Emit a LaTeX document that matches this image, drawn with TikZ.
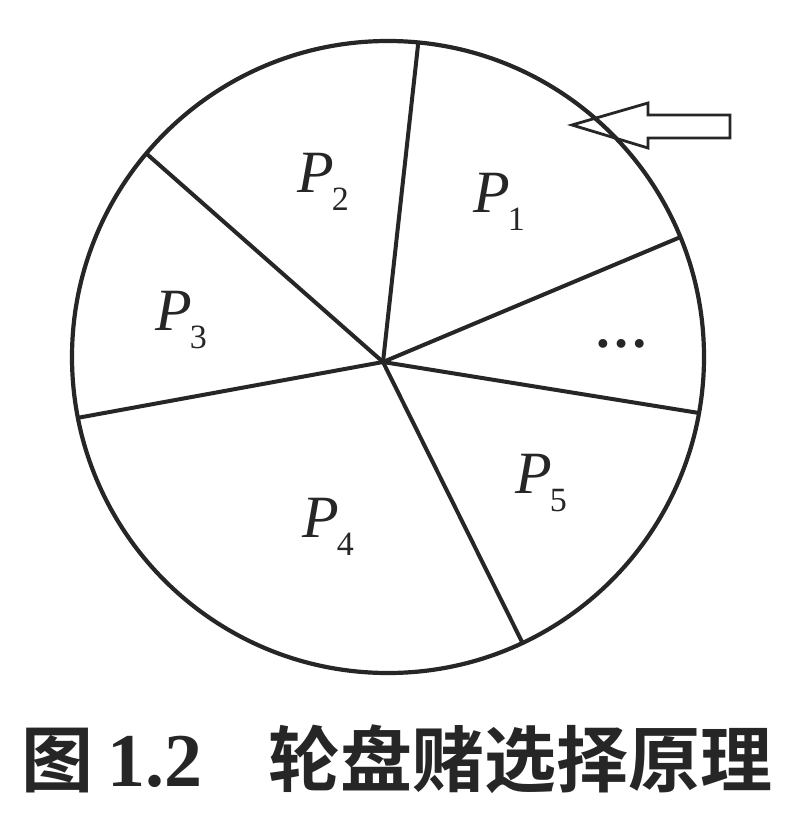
\documentclass[tikz,border=0pt]{standalone}
\usepackage{fontspec}
\setmainfont{Liberation Serif}
\newfontfamily\cjk{Noto Sans CJK SC}[BoldFont={Noto Sans CJK SC Bold}]
\newcommand\plab[1]{\textit{P}\kern-2pt\raisebox{-18pt}{\fontsize{34}{34}\selectfont #1}}
\begin{document}
\begin{tikzpicture}[x=1pt,y=-1pt,
  wheel/.style={draw=black!85,line width=4.2pt},
  spoke/.style={draw=black!85,line width=4pt},
  pointer/.style={draw=black!85,line width=2.8pt,line join=miter},
  plabel/.style={inner sep=0pt,anchor=base west,font=\fontsize{60}{60}\selectfont,text=black!85},
  caption/.style={inner sep=0pt,anchor=base west,text=black!85}]
\useasboundingbox (0,0) rectangle (810,834);
\fill[white] (0,0) rectangle (810,834);
% wheel
\coordinate (O) at (388,357);
\coordinate (C) at (383,362);
\draw[wheel] (O) circle[radius=316pt];
\coordinate (e1) at (418.3,42.5);
\coordinate (e2) at (146.3,153.5);
\coordinate (e3) at (78,417.8);
\coordinate (e4) at (522.5,642.9);
\coordinate (e5) at (699,413);
\coordinate (e6) at (680.4,237.1);
\foreach \e in {e1,e2,e3,e4,e5,e6}{\draw[spoke] (C) -- (\e);}
% labels
\node[plabel] (p1) at (473,212) {\plab{1}};
\node[plabel] (p2) at (297,193) {\plab{2}};
\node[plabel] (p3) at (155,330) {\plab{3}};
\node[plabel] (p4) at (302,537) {\plab{4}};
\node[plabel] (p5) at (515,493) {\plab{5}};
\node[inner sep=0pt,anchor=base,font=\bfseries\fontsize{54}{54}\selectfont,text=black!85] (dots) at (621,347) {…};
% pointer arrow
\draw[pointer] (572,125) -- (648,103) -- (648,115) -- (730,115) -- (730,138) -- (648,138) -- (648,148) -- cycle;
% caption
\node[caption] (capnum) at (21,786) {{\cjk\bfseries\fontsize{72}{72}\selectfont 图}\hspace{14pt}{\bfseries\fontsize{76}{76}\selectfont 1.2}};
\node[caption] (captext) at (268,786) {\cjk\bfseries\fontsize{72}{72}\selectfont 轮盘赌选择原理};
\end{tikzpicture}
\end{document}
